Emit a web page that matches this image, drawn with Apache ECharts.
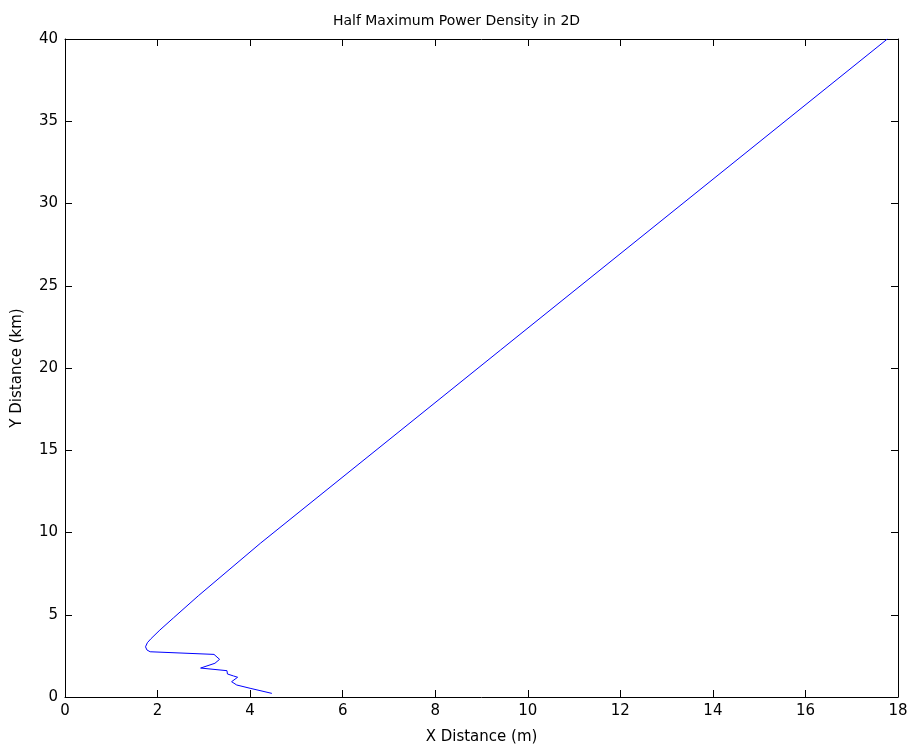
<!DOCTYPE html>
<html>
<head>
<meta charset="utf-8">
<script src="https://cdn.jsdelivr.net/npm/echarts@6/dist/echarts.min.js"></script>
<style>html,body{margin:0;padding:0;background:#fff}#c{width:913px;height:750px}</style>
</head>
<body>
<div id="c"></div>
<script>
var titleText = 'Half Maximum Power Density in 2D';
var xName = 'X Distance (m)';
var yName = 'Y Distance (km)';
var xVals = [4.47, 4.0, 3.71, 3.60, 3.73, 3.64, 3.51, 3.50, 2.93, 3.24, 3.34, 3.22, 1.84, 1.77, 1.74, 1.78, 1.86, 2.05, 2.34, 2.88, 4.22, 9.41, 17.77];
var yVals = [0.22, 0.53, 0.73, 0.93, 1.20, 1.28, 1.40, 1.60, 1.76, 2.05, 2.29, 2.59, 2.75, 2.86, 3.05, 3.30, 3.55, 4.07, 4.80, 6.15, 9.34, 21.09, 40.0];

var data = xVals.map(function (x, i) { return [x, yVals[i]]; });
var font = 'DejaVu Sans, Liberation Sans, Arial, sans-serif';
var axisCommon = {
  type: 'value',
  axisLine: { show: true, onZero: false, lineStyle: { color: '#000', width: 1 } },
  axisTick: { show: true, inside: true, length: 7, lineStyle: { color: '#000' } },
  splitLine: { show: false }
};
var chart = echarts.init(document.getElementById('c'));
chart.setOption({
  animation: false,
  title: { text: titleText, left: 'center', top: 9, textStyle: { fontFamily: font, fontSize: 14, fontWeight: 'normal', color: '#000' } },
  grid: { left: 65, right: 15, top: 39, bottom: 53 },
  xAxis: [
    Object.assign({}, axisCommon, { min: 0, max: 18, interval: 2, position: 'bottom', name: xName, nameLocation: 'middle', nameGap: 33,
      nameTextStyle: { fontFamily: font, fontSize: 15, color: '#000' },
      axisLabel: { fontFamily: font, fontSize: 15, color: '#000', margin: 7 } }),
    Object.assign({}, axisCommon, { min: 0, max: 18, interval: 2, position: 'top', axisLabel: { show: false } })
  ],
  yAxis: [
    Object.assign({}, axisCommon, { min: 0, max: 40, interval: 5, position: 'left', name: yName, nameLocation: 'middle', nameGap: 40,
      nameTextStyle: { fontFamily: font, fontSize: 15, color: '#000' },
      axisLabel: { fontFamily: font, fontSize: 15, color: '#000', margin: 7 } }),
    Object.assign({}, axisCommon, { min: 0, max: 40, interval: 5, position: 'right', axisLabel: { show: false } })
  ],
  series: [{
    type: 'line', data: data, xAxisIndex: 0, yAxisIndex: 0,
    showSymbol: false, symbol: 'none', smooth: false,
    lineStyle: { color: '#0000ff', width: 1 }
  }]
});
</script>
</body>
</html>
